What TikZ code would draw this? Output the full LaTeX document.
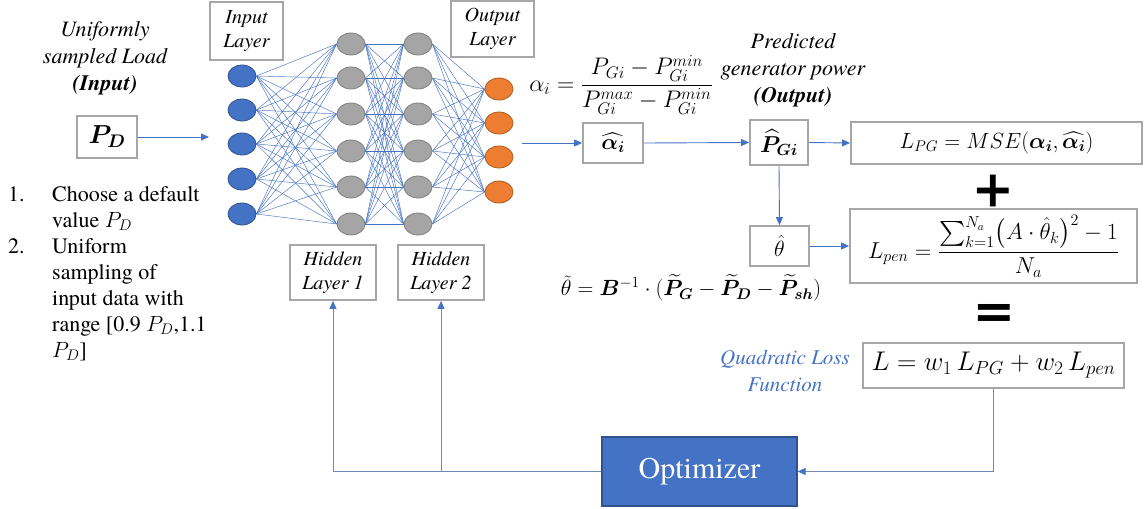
\RequirePackage{fix-cm}
\documentclass[tikz,border=0pt]{standalone}
\usepackage{amsmath,bm}
\usepackage{fontspec}
\setmainfont{texgyretermes}[Extension=.otf, UprightFont=*-regular, BoldFont=*-bold, ItalicFont=*-italic, BoldItalicFont=*-bolditalic]
\usetikzlibrary{shapes.geometric,arrows.meta,backgrounds}
\definecolor{nblue}{HTML}{4472C4}
\definecolor{nblueD}{HTML}{2F528F}
\definecolor{ngray}{HTML}{A5A5A5}
\definecolor{ngrayD}{HTML}{7F7F7F}
\definecolor{norange}{HTML}{ED7D31}
\definecolor{norangeD}{HTML}{AE5A21}
\definecolor{boxgray}{HTML}{A6A6A6}
\definecolor{fbline}{HTML}{7088B4}
\tikzset{
  neuron/.style={ellipse, minimum width=28pt, minimum height=22pt, inner sep=0pt, line width=0.8pt},
  inn/.style={neuron, fill=nblue, draw=nblueD},
  hid/.style={neuron, fill=ngray, draw=ngrayD},
  outn/.style={neuron, fill=norange, draw=norangeD},
  nnline/.style={draw=nblue, line width=0.45pt},
  gbox/.style={draw=boxgray, line width=1.8pt, fill=white, inner sep=0pt, align=center},
  lbl/.style={font=\fontsize{20}{24}\selectfont\itshape, align=center},
  arr/.style={draw=nblue, line width=0.9pt, -{Triangle[length=8pt,width=7pt]}},
  fb/.style={draw=fbline, line width=1pt},
  fbarr/.style={fb, -{Triangle[length=8pt,width=7pt,color=nblue]}},
  note/.style={font=\fontsize{22}{27}\selectfont\itshape, align=center},
}
\begin{document}
\begin{tikzpicture}[x=1pt, y=-1pt]
\useasboundingbox (0,0) rectangle (1144,509);

% neurons
\foreach \i/\y in {1/76,2/110,3/144,4/179,5/214} \node[inn] (a\i) at (242,\y) {};
\foreach \i/\y in {1/44,2/78,3/114,4/151,5/187,6/224} \node[hid] (b\i) at (351,\y) {};
\foreach \i/\y in {1/44,2/78,3/114,4/151,5/187,6/224} \node[hid] (c\i) at (418,\y) {};
\foreach \i/\y in {1/89,2/123,3/157,4/192} \node[outn] (d\i) at (499,\y) {};
\begin{scope}[on background layer]
\foreach \i in {1,...,5} \foreach \j in {1,...,6} \draw[nnline] (a\i.east) -- (b\j.west);
\foreach \i in {1,...,6} \foreach \j in {1,...,6} \draw[nnline] (b\i.east) -- (c\j.west);
\foreach \i in {1,...,6} \foreach \j in {1,...,4} \draw[nnline] (c\i.east) -- (d\j.west);
\end{scope}

% layer labels
\node[gbox, lbl, minimum width=73pt, minimum height=58pt] (inl) at (246.5,31) {Input\\Layer};
\node[gbox, lbl, minimum width=83pt, minimum height=56pt] (outl) at (492.5,29) {Output\\Layer};
\node[gbox, lbl, minimum width=86pt, minimum height=55pt] (hl1) at (333,272.5) {Hidden\\Layer 1};
\node[gbox, lbl, minimum width=86pt, minimum height=55pt] (hl2) at (441,272.5) {Hidden\\Layer 2};

% input side
\node[note] (intxt) at (105,58) {Uniformly\\sampled Load\\\textbf{(Input)}};
\node[gbox, minimum width=60pt, minimum height=42pt, font=\fontsize{26}{26}\selectfont] (pd) at (107,137) {$\bm{P_D}$};
\coordinate (netin) at (209,137);
\draw[arr] (pd.east) -- (netin);

\node[anchor=north west, inner sep=0pt, font=\fontsize{22}{26}\selectfont] (steps) at (8,183)
 {\begin{tabular}{@{}p{44pt}@{}l@{}}
 1. & Choose a default\\
    & value $P_D$\\
 2. & Uniform\\
    & sampling of\\
    & input data with\\
    & range [0.9 $P_D$,1.1\\
    & $P_D$]
 \end{tabular}};

% output side
\coordinate (netout) at (522,143);
\node[font=\fontsize{24}{24}\selectfont] (alphaf) at (621,85)
 {$\alpha_i = \dfrac{P_{Gi}-P_{Gi}^{min}}{P_{Gi}^{max}-P_{Gi}^{min}}$};
\node[gbox, minimum width=60pt, minimum height=40pt, font=\fontsize{22}{22}\selectfont] (ahat) at (613,143) {$\widehat{\bm{\alpha}_{\bm{i}}}$};
\node[note] (outtxt) at (793,70) {Predicted\\generator power\\\textbf{(Output)}};
\node[gbox, minimum width=58pt, minimum height=45pt, font=\fontsize{23}{23}\selectfont] (pgi) at (779,142.5) {$\widehat{\bm{P}}_{\bm{Gi}}$};
\node[gbox, minimum width=291pt, minimum height=42pt, font=\fontsize{22}{22}\selectfont] (lpg) at (996.5,143) {$L_{PG} = MSE(\bm{\alpha}_{\bm{i}}, \widehat{\bm{\alpha}_{\bm{i}}})$};
\node[font=\fontsize{66}{66}\selectfont\bfseries, inner sep=0pt] (plus) at (993,191) {+};
\node[gbox, minimum width=59pt, minimum height=40pt, font=\fontsize{22}{22}\selectfont] (th) at (779.5,246) {$\hat{\theta}$};
\node[gbox, minimum width=287pt, minimum height=74pt, font=\fontsize{23}{23}\selectfont] (lpen) at (993.5,246)
 {$L_{pen} = \dfrac{\sum_{k=1}^{N_a}\bigl(A\cdot\hat{\theta}_k\bigr)^2-1}{N_a}$};
\node[font=\fontsize{22}{22}\selectfont] (thf) at (691,288)
 {$\tilde{\theta} = \bm{B}^{-1}\cdot(\widetilde{\bm{P}}_{\bm{G}} - \widetilde{\bm{P}}_{\bm{D}} - \widetilde{\bm{P}}_{\bm{sh}})$};
\node[font=\fontsize{66}{66}\selectfont\bfseries, inner sep=0pt] (eq) at (994,317) {=};
\node[note, text=nblue, font=\fontsize{21}{27}\selectfont\itshape] (qlf) at (785,371) {Quadratic Loss\\Function};
\node[gbox, minimum width=261pt, minimum height=45pt, font=\fontsize{27}{27}\selectfont] (lt) at (993.5,365.5) {$L = w_1\, L_{PG} + w_2\, L_{pen}$};
\node[draw=nblueD, fill=nblue, line width=1.2pt, minimum width=195pt, minimum height=69pt, text=white, font=\fontsize{30}{30}\selectfont] (opt) at (699.5,471.5) {Optimizer};

% connectors
\draw[arr] (netout) -- (ahat.west);
\draw[arr] (ahat.east) -- (pgi.west);
\draw[arr] (pgi.east) -- (lpg.west);
\draw[arr] (pgi.south) -- (th.north);
\draw[arr] (th.east) -- (lpen.west);
\draw[fbarr] (lt.south) |- (opt.east);
\draw[fbarr] (opt.west) -| (hl1.south);
\draw[fbarr] (opt.west) -| (hl2.south);
\end{tikzpicture}
\end{document}
